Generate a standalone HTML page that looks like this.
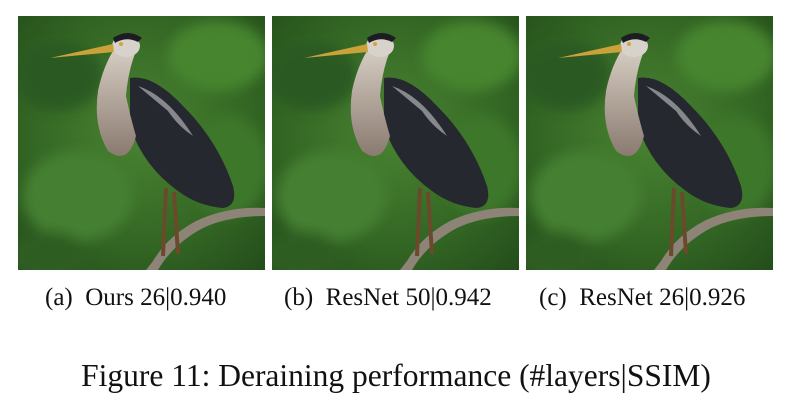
<!DOCTYPE html>
<html><head><meta charset="utf-8">
<style>
body{margin:0;background:#fff;width:792px;height:403px;overflow:hidden;position:relative;font-family:"Liberation Serif",serif;}
.panel{position:absolute;top:16px;width:247px;height:254px;}
.cap{position:absolute;top:284px;font-size:25px;color:#111;white-space:nowrap;}
#fig{position:absolute;top:358px;left:0;width:792px;text-align:center;font-size:31.5px;color:#111;}
</style></head><body>
<svg width="0" height="0" style="position:absolute">
<defs>
<radialGradient id="bg" cx="0.5" cy="0.45" r="0.75">
<stop offset="0" stop-color="#4a8432"/><stop offset="0.6" stop-color="#336624"/><stop offset="1" stop-color="#234c1a"/></radialGradient>
<filter id="bl"><feGaussianBlur stdDeviation="6"/></filter>
<linearGradient id="neck" x1="0" y1="0" x2="0" y2="1"><stop offset="0" stop-color="#d8cfc4"/><stop offset="1" stop-color="#8a7a70"/></linearGradient>
</defs>
</svg>
<div class="panel" style="left:18px"></div>
<div class="panel" style="left:272px"></div>
<div class="panel" style="left:526px"></div>
<div class="cap" style="left:45px">(a)&nbsp; Ours 26|0.940</div>
<div class="cap" style="left:284px">(b)&nbsp; ResNet 50|0.942</div>
<div class="cap" style="left:539px">(c)&nbsp; ResNet 26|0.926</div>
<div id="fig">Figure 11: Deraining performance (#layers|SSIM)</div>
<script>
const heron = `<svg width="247" height="254" viewBox="0 0 247 254">
<rect width="247" height="254" fill="url(#bg)"/>
<g filter="url(#bl)">
<ellipse cx="40" cy="60" rx="45" ry="35" fill="#2b5a20"/>
<ellipse cx="200" cy="40" rx="50" ry="35" fill="#47852f"/>
<ellipse cx="60" cy="180" rx="55" ry="45" fill="#458032"/>
<ellipse cx="210" cy="150" rx="40" ry="50" fill="#3c772a"/>
<ellipse cx="30" cy="240" rx="40" ry="25" fill="#2e5d22"/>
</g>
<path d="M178 205 Q150 220 135 245 L128 254 L140 254 Q155 228 185 212 Q210 200 247 200 L247 192 Q210 190 178 205Z" fill="#8d8377"/>
<path d="M148 172 L145 240 M156 176 L160 238" stroke="#6b4a2c" stroke-width="4" fill="none"/>
<path d="M112 62 Q135 58 165 90 Q200 125 215 170 Q220 190 205 192 Q180 190 160 175 Q125 150 112 110Z" fill="#25282e"/>
<path d="M120 70 Q150 80 175 120 Q160 110 150 95Z" fill="#c8c8cc" opacity="0.6"/>
<path d="M98 30 Q85 50 80 75 Q75 110 90 135 Q110 150 118 120 Q112 100 108 80 Q110 55 118 35 Z" fill="url(#neck)"/>
<ellipse cx="108" cy="30" rx="14" ry="11" fill="#d7d2cc"/>
<path d="M95 22 Q110 12 124 22 L120 26 Q108 20 97 27Z" fill="#1c1c22"/>
<path d="M32 42 L95 28 L96 36 Z" fill="#c9a23a"/>
<circle cx="103" cy="28" r="2" fill="#d2a53a"/>
</svg>`;
document.querySelectorAll('.panel').forEach(p=>p.innerHTML=heron);
</script>
</body></html>
